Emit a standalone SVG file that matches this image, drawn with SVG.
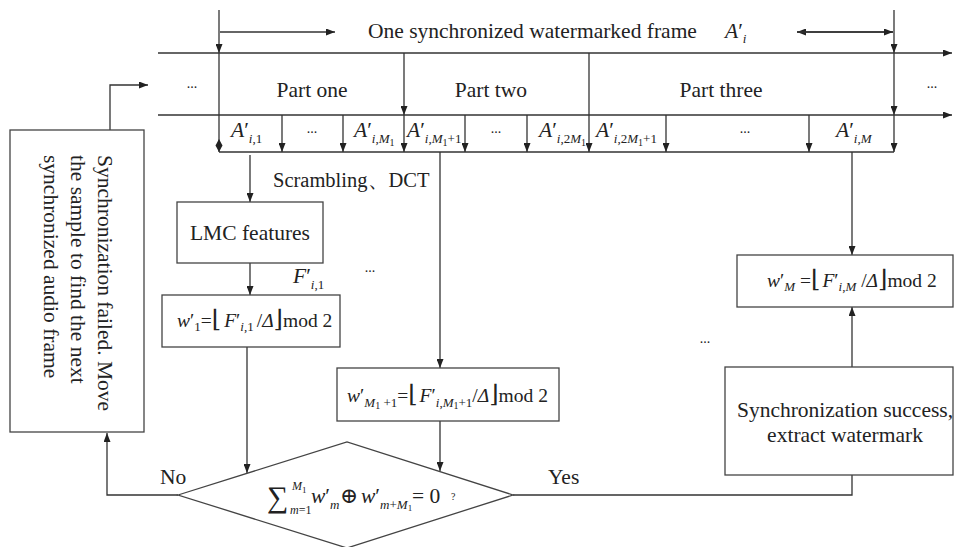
<svg xmlns="http://www.w3.org/2000/svg" width="954" height="547" viewBox="0 0 954 547">
<defs>
<marker id="ah" markerWidth="9" markerHeight="7" refX="9" refY="3.5" orient="auto" markerUnits="userSpaceOnUse"><path d="M0,0 L9,3.5 L0,7 z" fill="#222"/></marker>
<style>
svg{font-family:"Liberation Serif","Times New Roman","DejaVu Serif",serif;font-size:21.5px}
.l{stroke:#333;stroke-width:1.3;fill:none}
.a{stroke:#333;stroke-width:1.3;fill:none;marker-end:url(#ah)}
.b{stroke:#444;stroke-width:1.3;fill:#fff}
text{fill:#222}
.i{font-style:italic}
.s{font-size:13px}
.d{font-size:14px}
.f{font-size:24px}
</style>
</defs>
<rect width="954" height="547" fill="#fff"/>

<g id="connectors">
<line class="a" x1="158" y1="53" x2="952" y2="53"/>
<line class="a" x1="158" y1="115" x2="952" y2="115"/>
<line class="l" x1="219" y1="152" x2="894" y2="152"/>
<line class="a" x1="220" y1="32" x2="335" y2="32"/>
<line class="a" x1="893" y1="32" x2="797" y2="32"/>
<line class="a" x1="797" y1="32" x2="893" y2="32"/>
<line class="a" x1="219" y1="10" x2="219" y2="53"/>
<line class="l" x1="219" y1="53" x2="219" y2="152"/>
<polygon points="219,139 222.5,145.5 219,152 215.5,145.5" fill="#222"/>
<line class="a" x1="894" y1="10" x2="894" y2="53"/>
<line class="a" x1="894" y1="53" x2="894" y2="115"/>
<line class="a" x1="894" y1="115" x2="894" y2="152"/>
<line class="a" x1="404" y1="53" x2="404" y2="115"/>
<line class="a" x1="404" y1="115" x2="404" y2="152"/>
<line class="a" x1="589" y1="53" x2="589" y2="152"/>
<line class="a" x1="282" y1="115" x2="282" y2="152"/>
<line class="a" x1="343" y1="115" x2="343" y2="152"/>
<line class="a" x1="465" y1="115" x2="465" y2="152"/>
<line class="a" x1="527" y1="115" x2="527" y2="152"/>
<line class="a" x1="666" y1="115" x2="666" y2="152"/>
<line class="a" x1="809" y1="115" x2="809" y2="152"/>
<line class="a" x1="250" y1="155" x2="250" y2="202"/>
<line class="a" x1="250" y1="263" x2="250" y2="295"/>
<line class="a" x1="247" y1="347" x2="247" y2="473"/>
<line class="a" x1="440" y1="152" x2="440" y2="368"/>
<line class="a" x1="440" y1="421" x2="440" y2="471"/>
<line class="a" x1="852" y1="152" x2="852" y2="255"/>
<line class="a" x1="852" y1="367" x2="852" y2="307"/>
<polyline class="l" points="513,495 852,495 852,475"/>
<polyline class="a" points="178,495 107,495 107,433"/>
<polyline class="a" points="110,130 110,85 148,85"/>
</g>

<g id="timeline-labels">
<text x="368" y="38">One synchronized watermarked frame</text>
<text x="725" y="38"><tspan class="i">A</tspan>′<tspan class="s i" dy="5">i</tspan></text>
<text x="192" y="88" class="d" text-anchor="middle">...</text>
<text x="312" y="97" text-anchor="middle">Part one</text>
<text x="491" y="97" text-anchor="middle">Part two</text>
<text x="721" y="97" text-anchor="middle">Part three</text>
<text x="932" y="88" class="d" text-anchor="middle">...</text>

<text x="231" y="137"><tspan class="i">A</tspan>′<tspan class="s" dy="6"><tspan class="i">i</tspan>,1</tspan></text>
<text x="312" y="133" class="d" text-anchor="middle">...</text>
<text x="354" y="137"><tspan class="i">A</tspan>′<tspan class="s" dy="6"><tspan class="i">i</tspan>,<tspan class="i">M</tspan></tspan><tspan font-size="10" dy="3">1</tspan></text>
<text x="407" y="137"><tspan class="i">A</tspan>′<tspan class="s" dy="6"><tspan class="i">i</tspan>,<tspan class="i">M</tspan></tspan><tspan font-size="10" dy="3">1</tspan><tspan class="s" dy="-3">+1</tspan></text>
<text x="496" y="133" class="d" text-anchor="middle">...</text>
<text x="539" y="137"><tspan class="i">A</tspan>′<tspan class="s" dy="6"><tspan class="i">i</tspan>,2<tspan class="i">M</tspan></tspan><tspan font-size="10" dy="3">1</tspan></text>
<text x="596" y="137"><tspan class="i">A</tspan>′<tspan class="s" dy="6"><tspan class="i">i</tspan>,2<tspan class="i">M</tspan></tspan><tspan font-size="10" dy="3">1</tspan><tspan class="s" dy="-3">+1</tspan></text>
<text x="745" y="133" class="d" text-anchor="middle">...</text>
<text x="836" y="137"><tspan class="i">A</tspan>′<tspan class="s" dy="6"><tspan class="i">i</tspan>,<tspan class="i">M</tspan></tspan></text>

<text x="273" y="187" font-size="20.5">Scrambling、DCT</text>
<text x="293" y="283"><tspan class="i">F</tspan>′<tspan class="s" dy="6"><tspan class="i">i</tspan>,1</tspan></text>
<text x="370" y="272" class="d" text-anchor="middle">...</text>
<text x="705" y="343" class="d" text-anchor="middle">...</text>
<text x="160" y="484">No</text>
<text x="548" y="484">Yes</text>
</g>

<g id="lmc">
<rect class="b" x="177" y="202" width="146" height="61"/>
<text x="250" y="240" text-anchor="middle">LMC features</text>
</g>

<g id="w1">
<rect class="b" x="162" y="295" width="178" height="52"/>
<text x="177" y="327" font-size="19.5"><tspan class="i">w</tspan>′<tspan class="s" dy="4">1</tspan><tspan dy="-4">=</tspan><tspan class="f">⌊</tspan><tspan class="i" dx="3">F</tspan>′<tspan class="s" dy="4"><tspan class="i">i</tspan>,1</tspan><tspan dy="-4" dx="3">/</tspan><tspan class="i">Δ</tspan><tspan class="f">⌋</tspan>mod 2</text>
</g>

<g id="wM1">
<rect class="b" x="337" y="368" width="222" height="53"/>
<text x="347" y="402" font-size="19.5"><tspan class="i">w</tspan>′<tspan class="s" dy="5"><tspan class="i">M</tspan></tspan><tspan font-size="10" dy="2">1</tspan><tspan class="s" dy="-2"> +1</tspan><tspan dy="-5">=</tspan><tspan class="f">⌊</tspan><tspan class="i" dx="2">F</tspan>′<tspan class="s" dy="5"><tspan class="i">i</tspan>,<tspan class="i">M</tspan></tspan><tspan font-size="10" dy="2">1</tspan><tspan class="s" dy="-2">+1</tspan><tspan dy="-5">/</tspan><tspan class="i">Δ</tspan><tspan class="f">⌋</tspan>mod 2</text>
</g>

<g id="wM">
<rect class="b" x="737" y="255" width="216" height="52"/>
<text x="767" y="287" font-size="19.5"><tspan class="i">w</tspan>′<tspan class="s i" dy="4">M</tspan><tspan dy="-4"> =</tspan><tspan class="f">⌊</tspan><tspan class="i" dx="2">F</tspan>′<tspan class="s" dy="4"><tspan class="i">i</tspan>,<tspan class="i">M</tspan></tspan><tspan dy="-4"> /</tspan><tspan class="i">Δ</tspan><tspan class="f">⌋</tspan>mod 2</text>
</g>

<g id="success">
<rect class="b" x="725" y="367" width="228" height="108"/>
<text x="845" y="417" text-anchor="middle">Synchronization success,</text>
<text x="845" y="442" text-anchor="middle">extract watermark</text>
</g>

<g id="failed">
<rect class="b" x="10" y="130" width="134" height="302"/>
<text transform="translate(98,155) rotate(90)">Synchronization failed. Move</text>
<text transform="translate(71,155) rotate(90)">the sample to find the next</text>
<text transform="translate(44,155) rotate(90)">synchronized audio frame</text>
</g>

<g id="decision">
<polygon class="b" points="178,495 347,442 513,495 347,548"/>
<text x="267" y="507" font-size="30">∑</text>
<text x="292" y="490" font-size="12" class="i">M</text>
<text x="302" y="493" font-size="9">1</text>
<text x="290" y="514" font-size="12"><tspan class="i">m</tspan>=1</text>
<text x="311" y="503"><tspan class="i">w</tspan>′<tspan class="s i" dy="6">m</tspan></text>
<text x="340" y="503">⊕</text>
<text x="361" y="503"><tspan class="i">w</tspan>′<tspan class="s" dy="6"><tspan class="i">m</tspan>+<tspan class="i">M</tspan></tspan><tspan font-size="9" dy="2">1</tspan></text>
<text x="412" y="503">= 0</text>
<text x="451" y="500" font-size="10">?</text>
</g>
</svg>
